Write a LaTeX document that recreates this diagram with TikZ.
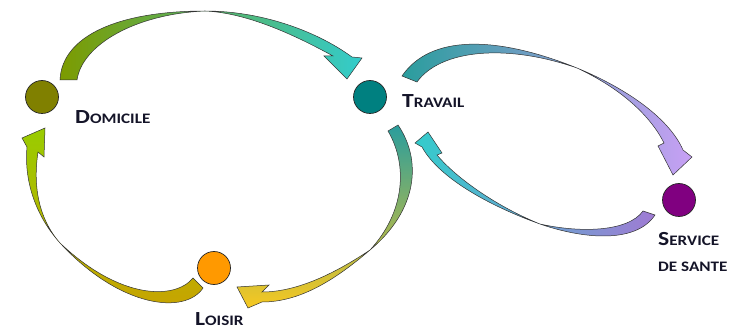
\documentclass[tikz,border=0pt]{standalone}
\usepackage{fontspec}
\usepackage{graphicx}
\setmainfont{Carlito}
\definecolor{domfill}{HTML}{808000}
\definecolor{travfill}{HTML}{008080}
\definecolor{loisfill}{HTML}{FF9900}
\definecolor{santfill}{HTML}{800080}
\definecolor{labelink}{HTML}{141428}
\definecolor{olivegreen}{HTML}{7C9B00}
\definecolor{aqua}{HTML}{33CCCC}
\definecolor{tealband}{HTML}{2A9D9D}
\definecolor{lilac}{HTML}{C8A0F5}
\definecolor{mauve}{HTML}{A07BD4}
\definecolor{sunyellow}{HTML}{F7C820}
\definecolor{limegreen}{HTML}{99CC00}
\definecolor{gold}{HTML}{C9A200}
% capital initial followed by small capitals, set a little wide
\newcommand{\caplabel}[2]{\scalebox{1.18}[1]{{\fontsize{20}{20}\selectfont #1}{\fontsize{14.5}{14.5}\selectfont #2}}}
\begin{document}
\begin{tikzpicture}[x=1pt,y=-1pt,
  place/.style={circle, draw=black!85, line width=0.7pt, minimum size=33pt, inner sep=0pt},
  lbl/.style={anchor=base west, inner sep=0pt, text=labelink, font=\bfseries},
  flow/.style={draw=black!80, line width=0.5pt}]
\useasboundingbox (0,0) rectangle (734,331);

% places
\node[place, fill=domfill]  (dom)  at (42,97)   {};
\node[place, fill=travfill] (trav) at (370,97)  {};
\node[place, fill=loisfill] (lois) at (214,268) {};
\node[place, fill=santfill] (sant) at (679,200) {};

% labels
\node[lbl] (domlbl)  at (75,124)  {\caplabel{D}{OMICILE}};
\node[lbl] (travlbl) at (402,108) {\caplabel{T}{RAVAIL}};
\node[lbl] (loislbl) at (195,326) {\caplabel{L}{OISIR}};
\node[lbl] (santlbl) at (658,246) {\caplabel{S}{ERVICE}};
\node[lbl] (santlbb) at (658,272) {\caplabel{}{DE SANTE}};

% domicile -> travail
\shadedraw[flow, left color=olivegreen, middle color=olivegreen!55!aqua, right color=aqua]
  (60,80) .. controls (62,35) and (120,11) .. (205,11)
  .. controls (260,11) and (315,30) .. (352,57)
  -- (362,58) -- (347,79) -- (324,56) -- (333,56)
  .. controls (300,38) and (250,13) .. (205,11)
  .. controls (135,14) and (82,45) .. (77,80) -- cycle;

% travail -> service de sante
\shadedraw[flow, left color=tealband, right color=lilac]
  (402,76) .. controls (430,35) and (495,35) .. (577,68)
  .. controls (630,90) and (670,120) .. (683,150)
  -- (692,157) -- (673,175) -- (658,146) -- (664,143)
  .. controls (650,115) and (620,88) .. (577,68)
  .. controls (505,43) and (440,50) .. (417,82) -- cycle;

% service de sante -> travail
\shadedraw[flow, left color=aqua, right color=mauve]
  (655,215) .. controls (635,245) and (580,238) .. (540,224)
  .. controls (495,208) and (440,180) .. (422,147)
  -- (415,143) -- (428,132) -- (442,153) -- (437,155)
  .. controls (458,180) and (500,208) .. (540,224)
  .. controls (580,233) and (628,232) .. (643,211) -- cycle;

% travail -> loisir
\shadedraw[flow, top color=tealband, middle color=tealband!85!sunyellow, bottom color=sunyellow]
  (398,125) .. controls (422,160) and (418,210) .. (370,250)
  .. controls (335,280) and (300,302) .. (262,302)
  -- (248,308) -- (237,287) -- (269,285) -- (262,292)
  .. controls (300,292) and (340,270) .. (370,250)
  .. controls (405,212) and (408,165) .. (388,131) -- cycle;

% loisir -> domicile
\shadedraw[flow, top color=limegreen, middle color=limegreen!80!gold, bottom color=gold]
  (203,288) .. controls (185,315) and (120,308) .. (60,243)
  .. controls (35,215) and (24,180) .. (27,147)
  -- (22,138) -- (45,128) -- (44,157) -- (38,152)
  .. controls (33,185) and (38,218) .. (60,243)
  .. controls (120,300) and (175,300) .. (193,278) -- cycle;
\end{tikzpicture}
\end{document}
